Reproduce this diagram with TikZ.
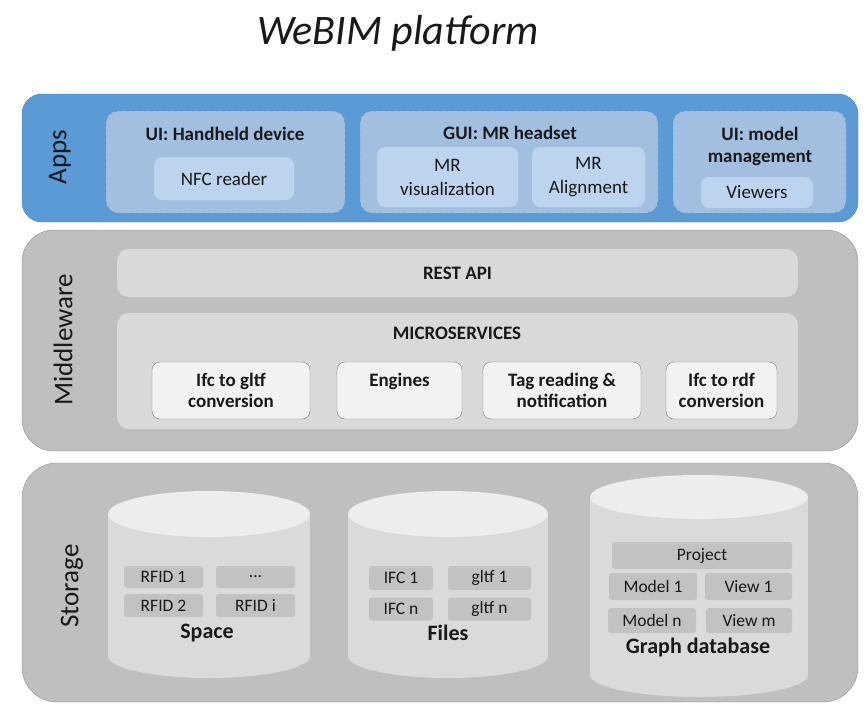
\documentclass[tikz,border=0pt]{standalone}
\usepackage{fontspec}
\setmainfont{Carlito}
\definecolor{appsblue}{HTML}{5B9BD5}
\definecolor{appsline}{HTML}{4A7EBB}
\definecolor{uiblue}{HTML}{A3BFE0}
\definecolor{uiline}{HTML}{5F86B8}
\definecolor{boxblue}{HTML}{BDD4EE}
\definecolor{bandgrey}{HTML}{BFBFBF}
\definecolor{bandline}{HTML}{8C8C8C}
\definecolor{panelgrey}{HTML}{D9D9D9}
\definecolor{servfill}{HTML}{F2F2F2}
\definecolor{servline}{HTML}{7F7F7F}
\definecolor{cylbody}{HTML}{DADADA}
\definecolor{cyltop}{HTML}{EDEDED}
\definecolor{itemgrey}{HTML}{C2C2C2}
\begin{document}
\begin{tikzpicture}[x=1pt,y=-1pt,
    every node/.style={inner sep=0pt,text=black!90},
    band/.style={rectangle,draw=bandline,fill=bandgrey,rounded corners=32pt},
    layer/.style={rotate=90,font=\fontsize{27}{30}\selectfont},
    ui/.style={rectangle,draw=uiline,dashed,fill=uiblue,rounded corners=12pt},
    uibox/.style={rectangle,fill=boxblue,rounded corners=8pt,align=center,
      font=\fontsize{19}{24}\selectfont},
    head/.style={align=center,font=\fontsize{19}{22}\selectfont\bfseries},
    panel/.style={rectangle,fill=panelgrey,rounded corners=12pt},
    service/.style={rectangle,draw=servline,fill=servfill,rounded corners=8pt,
      align=center,font=\fontsize{19}{21}\selectfont\bfseries},
    item/.style={rectangle,fill=itemgrey,rounded corners=3pt,
      font=\fontsize{17.5}{20}\selectfont},
    store/.style={font=\fontsize{22}{26}\selectfont\bfseries}]
  \useasboundingbox (0,0) rectangle (868,707);
  \node (title) at (398,33) [font=\fontsize{42}{48}\selectfont\itshape]
    {WeBIM platform};
  % apps layer
  \node (apps) at (440,158) [rectangle,draw=appsline,fill=appsblue,
    rounded corners=20pt,minimum width=836pt,minimum height=128pt] {};
  \node (appslbl) at (60,157) [layer] {Apps};
  \node (hand) at (225.5,162) [ui,minimum width=239pt,minimum height=102pt] {};
  \node (gui) at (509,162) [ui,minimum width=298pt,minimum height=102pt] {};
  \node (mgmt) at (759.5,162) [ui,minimum width=173pt,minimum height=102pt] {};
  \node (handlbl) at (225,134) [head] {UI: Handheld device};
  \node (guilbl) at (510,133) [head] {GUI: MR headset};
  \node (mgmtlbl) at (760,146) [head] {UI: model\\management};
  \node (nfc) at (224,178.5) [uibox,minimum width=140pt,minimum height=43pt]
    {NFC reader};
  \node (mrvis) at (447.5,177) [uibox,minimum width=141pt,minimum height=60pt]
    {MR\\visualization};
  \node (mralign) at (588.5,177) [uibox,minimum width=113pt,minimum height=60pt]
    {MR\\Alignment};
  \node (viewers) at (757,192.5) [uibox,minimum width=112pt,minimum height=31pt]
    {Viewers};
  % middleware layer
  \node (mid) at (440,340.5) [band,minimum width=836pt,minimum height=221pt] {};
  \node (midlbl) at (63,340) [layer] {Middleware};
  \node (rest) at (457.5,273) [panel,minimum width=681pt,minimum height=48pt,
    font=\fontsize{19}{22}\selectfont\bfseries] {REST API};
  \node (micro) at (457.5,371) [panel,minimum width=681pt,minimum height=116pt] {};
  \node (microlbl) at (457,333) [head] {MICROSERVICES};
  \node (gltf) at (231,390.5) [service,minimum width=158pt,minimum height=57pt]
    {Ifc to gltf\\conversion};
  \node (engines) at (399.5,390.5) [service,minimum width=125pt,minimum height=57pt]
    {Engines\\~};
  \node (tag) at (562,390.5) [service,minimum width=158pt,minimum height=57pt]
    {Tag reading \&\\notification};
  \node (rdf) at (721.5,390.5) [service,minimum width=111pt,minimum height=57pt]
    {Ifc to rdf\\conversion};
  % storage layer
  \node (stor) at (440,582.5) [band,rounded corners=35pt,minimum width=836pt,
    minimum height=239pt] {};
  \node (storlbl) at (72,586) [layer] {Storage};
  \fill[cylbody] (108,514) rectangle (310,656);
  \fill[cylbody] (209,656) ellipse [x radius=101,y radius=22];
  \fill[cyltop] (209,514) ellipse [x radius=101,y radius=23];
  \fill[cylbody] (348,514) rectangle (548,656);
  \fill[cylbody] (448,656) ellipse [x radius=100,y radius=22];
  \fill[cyltop] (448,514) ellipse [x radius=100,y radius=23];
  \fill[cylbody] (590,497) rectangle (808,675);
  \fill[cylbody] (699,675) ellipse [x radius=109,y radius=22];
  \fill[cyltop] (699,497) ellipse [x radius=109,y radius=22];
  \node (rfid1) at (163.5,577) [item,minimum width=79pt,minimum height=22pt] {RFID 1};
  \node (rfiddots) at (255.5,577) [item,minimum width=79pt,minimum height=22pt] {...};
  \node (rfid2) at (163.5,605.5) [item,minimum width=79pt,minimum height=23pt] {RFID 2};
  \node (rfidi) at (255.5,605.5) [item,minimum width=79pt,minimum height=23pt] {RFID i};
  \node (space) at (207,633) [store] {Space};
  \node (ifc1) at (401,578) [item,minimum width=64pt,minimum height=24pt] {IFC 1};
  \node (gltf1) at (489.5,578) [item,minimum width=83pt,minimum height=24pt] {gltf 1};
  \node (ifcn) at (401,609) [item,minimum width=64pt,minimum height=23pt] {IFC n};
  \node (gltfn) at (489.5,609) [item,minimum width=83pt,minimum height=23pt] {gltf n};
  \node (files) at (448,633) [store] {Files};
  \node (project) at (702,555.5) [item,minimum width=180pt,minimum height=27pt] {Project};
  \node (model1) at (653,586.5) [item,minimum width=88pt,minimum height=27pt] {Model 1};
  \node (view1) at (748.5,586.5) [item,minimum width=87pt,minimum height=27pt] {View 1};
  \node (modeln) at (652,620.5) [item,minimum width=88pt,minimum height=25pt] {Model n};
  \node (viewm) at (749,620.5) [item,minimum width=86pt,minimum height=25pt] {View m};
  \node (graph) at (698,648) [store] {Graph database};
\end{tikzpicture}
\end{document}
